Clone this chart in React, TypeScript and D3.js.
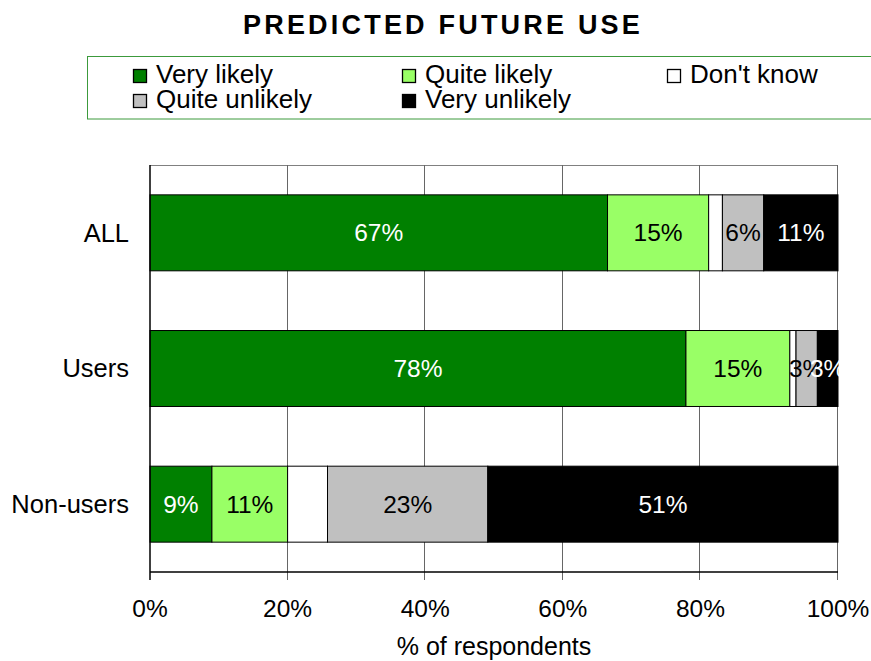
import React from "react";
import * as d3 from "d3";

const categories = ["ALL", "Users", "Non-users"];
const seriesNames = ["Very likely", "Quite likely", "Don't know", "Quite unlikely", "Very unlikely"];
const seriesColors = ["#008000", "#99FF66", "#FFFFFF", "#C0C0C0", "#000000"];
const labelColors = ["#FFFFFF", "#000000", "#000000", "#000000", "#FFFFFF"];
const showLabels = [true, true, false, true, true];
const veryLikely = [66.5, 77.9, 9.0];
const quiteLikely = [14.7, 15.1, 11.0];
const dontKnow = [2.0, 0.9, 5.8];
const quiteUnlikely = [6.0, 3.1, 23.3];
const veryUnlikely = [10.8, 3.0, 50.9];
const xTicks = [0, 20, 40, 60, 80, 100];

const W = 871;
const H = 661;
const margin = { left: 150, right: 838, top: 165, bottom: 572 };
const FONT = "'Liberation Sans', Arial, Helvetica, sans-serif";

export default function App() {
  const seriesValues = [veryLikely, quiteLikely, dontKnow, quiteUnlikely, veryUnlikely];
  const rows = categories.map((c, i) => {
    const r: any = { cat: c };
    seriesNames.forEach((s, j) => (r[s] = seriesValues[j][i]));
    return r;
  });
  const stacked = d3.stack<any>().keys(seriesNames)(rows);

  const x = d3.scaleLinear().domain([0, 100]).range([margin.left, margin.right]);
  const y = d3
    .scaleBand<string>()
    .domain(categories)
    .range([margin.top, margin.bottom])
    .paddingInner(0.44)
    .paddingOuter(0.22);

  const legendCols = [133, 402, 667];
  const legendRows = [69, 94];
  const legendPos = [
    [0, 0],
    [1, 0],
    [2, 0],
    [0, 1],
    [1, 1],
  ];

  return (
    <svg
      width={W}
      height={H}
      style={{ position: "absolute", left: 0, top: 0, background: "#fff" }}
      fontFamily={FONT}
    >
      <rect x={0} y={0} width={W} height={H} fill="#fff" />
      {/* Title */}
      <text
        x={443}
        y={34}
        textAnchor="middle"
        fontSize={27}
        fontWeight="bold"
        letterSpacing={3.2}
        fill="#000"
      >
        PREDICTED FUTURE USE
      </text>

      {/* Legend */}
      <rect x={87.5} y={56.5} width={800} height={62.5} fill="#fff" stroke="#3c9a3c" strokeWidth={1} />
      {seriesNames.map((s, i) => {
        const [c, r] = legendPos[i];
        const sx = legendCols[c];
        const sy = legendRows[r];
        return (
          <g key={s}>
            <rect x={sx + 0.5} y={sy + 0.5} width={13} height={13} fill={seriesColors[i]} stroke="#000" strokeWidth={1.3} />
            <text x={sx + 23} y={sy + 14} fontSize={26} fill="#000">
              {s}
            </text>
          </g>
        );
      })}

      {/* Plot frame and gridlines */}
      <line x1={margin.left} x2={margin.right} y1={margin.top + 0.5} y2={margin.top + 0.5} stroke="#808080" />
      {xTicks.slice(1).map((t) => (
        <line
          key={"g" + t}
          x1={Math.round(x(t)) - 0.5}
          x2={Math.round(x(t)) - 0.5}
          y1={margin.top}
          y2={margin.bottom + 8}
          stroke="#666"
          strokeWidth={1}
        />
      ))}

      {/* Bars */}
      {stacked.map((layer, si) =>
        layer.map((d, ci) => (
          <rect
            key={si + "-" + ci}
            x={x(d[0])}
            y={y(categories[ci])!}
            width={x(d[1]) - x(d[0])}
            height={y.bandwidth()}
            fill={seriesColors[si]}
            stroke="#000"
            strokeWidth={1}
          />
        ))
      )}
      {stacked.map((layer, si) =>
        showLabels[si]
          ? layer.map((d, ci) => (
              <text
                key={"l" + si + "-" + ci}
                x={(x(d[0]) + x(d[1])) / 2}
                y={y(categories[ci])! + y.bandwidth() / 2}
                dy="0.35em"
                textAnchor="middle"
                fontSize={24.5}
                fill={labelColors[si]}
              >
                {Math.round(d[1] - d[0]) + "%"}
              </text>
            ))
          : null
      )}

      {/* Axes */}
      <line x1={margin.left} x2={margin.left} y1={margin.top} y2={margin.bottom + 8} stroke="#000" strokeWidth={1.5} />
      <line x1={margin.left} x2={margin.right} y1={margin.bottom} y2={margin.bottom} stroke="#000" strokeWidth={1.5} />
      {xTicks.map((t) => (
        <text key={"t" + t} x={x(t)} y={617} textAnchor="middle" fontSize={24.5} fill="#000">
          {t + "%"}
        </text>
      ))}
      {categories.map((c) => (
        <text
          key={"c" + c}
          x={129}
          y={y(c)! + y.bandwidth() / 2}
          dy="0.35em"
          textAnchor="end"
          fontSize={25.5}
          fill="#000"
        >
          {c}
        </text>
      ))}
      <text x={(margin.left + margin.right) / 2} y={655} textAnchor="middle" fontSize={25} fill="#000">
        % of respondents
      </text>
    </svg>
  );
}
